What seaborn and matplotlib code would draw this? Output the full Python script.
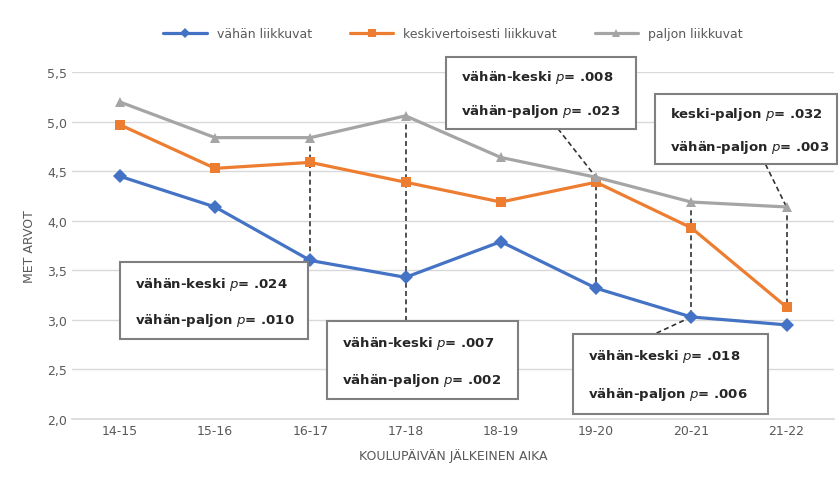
import matplotlib
matplotlib.use("Agg")
import pandas as pd
import seaborn as sns
from matplotlib import pyplot as plt
from matplotlib.patches import Rectangle
import matplotlib.ticker as ticker

aika = ["14-15", "15-16", "16-17", "17-18", "18-19", "19-20", "20-21", "21-22"]
vahan = [4.45, 4.14, 3.60, 3.43, 3.79, 3.32, 3.03, 2.95]
keski = [4.97, 4.53, 4.59, 4.39, 4.19, 4.39, 3.93, 3.13]
paljon = [5.20, 4.84, 4.84, 5.06, 4.64, 4.44, 4.19, 4.14]
ryhmat = ["vähän liikkuvat", "keskivertoisesti liikkuvat", "paljon liikkuvat"]

# p-value boxes: (lines, box in data coords x0, y0, x1, y1)
boxes = [
    (["vähän-keski $p$= .024", "vähän-paljon $p$= .010"], (0.0, 2.81, 1.98, 3.58)),
    (["vähän-keski $p$= .007", "vähän-paljon $p$= .002"], (2.17, 2.20, 4.18, 2.99)),
    (["vähän-keski $p$= .008", "vähän-paljon $p$= .023"], (3.42, 4.93, 5.42, 5.65)),
    (["keski-paljon $p$= .032", "vähän-paljon $p$= .003"], (5.62, 4.57, 7.53, 5.28)),
    (["vähän-keski $p$= .018", "vähän-paljon $p$= .006"], (4.76, 2.05, 6.81, 2.86)),
]

df = pd.DataFrame({
    "aika": aika * 3,
    "arvo": vahan + keski + paljon,
    "ryhma": [ryhmat[0]] * 8 + [ryhmat[1]] * 8 + [ryhmat[2]] * 8,
})

sns.set_theme(style="white")
plt.rcParams['font.family'] = ['DejaVu Sans']

fig, ax = plt.subplots(figsize=(8.4, 4.85), dpi=100)
fig.subplots_adjust(left=0.086, right=0.993, bottom=0.134, top=0.849)

palette = {ryhmat[0]: "#4472C4", ryhmat[1]: "#ED7D31", ryhmat[2]: "#A5A5A5"}
markers = {ryhmat[0]: "D", ryhmat[1]: "s", ryhmat[2]: "^"}
sns.lineplot(data=df, x="aika", y="arvo", hue="ryhma", style="ryhma",
             palette=palette, markers=markers, dashes=False, linewidth=2.3,
             markersize=7, markeredgewidth=0, ax=ax, zorder=3)

ax.set_ylim(2.0, 5.5)
ax.set_xlim(-0.5, 7.5)
ax.yaxis.set_major_locator(ticker.MultipleLocator(0.5))
ax.yaxis.set_major_formatter(ticker.FuncFormatter(lambda v, p: f"{v:.1f}".replace(".", ",")))
ax.grid(axis="y", color="#d9d9d9", linewidth=1)
for s in ["top", "right", "left"]:
    ax.spines[s].set_visible(False)
ax.spines["bottom"].set_color("#d9d9d9")
ax.tick_params(axis="both", labelsize=9, colors="#595959", length=0)
ax.set_xlabel("KOULUPÄIVÄN JÄLKEINEN AIKA", fontsize=9, color="#595959", labelpad=8)
ax.set_ylabel("MET ARVOT", fontsize=9, color="#595959", labelpad=8)

leg = ax.legend(loc="lower center", bbox_to_anchor=(0.5, 1.06), ncol=3, frameon=False,
                fontsize=9, handlelength=3.5, columnspacing=3, markerscale=0.8)
for t in leg.get_texts():
    t.set_color("#595959")

# dashed connectors
dash = dict(color="#333333", linewidth=1.2, linestyle=(0, (3, 2)), zorder=2)
ax.plot([2, 2], [paljon[2], vahan[2]], **dash)
ax.plot([3, 3], [paljon[3], boxes[1][1][3]], **dash)
ax.plot([5, 5], [paljon[5], vahan[5]], **dash)
ax.plot([6, 6], [paljon[6], vahan[6]], **dash)
ax.plot([7, 7], [paljon[7], keski[7]], **dash)
ax.plot([4.60, 5], [boxes[2][1][1], paljon[5]], **dash)
ax.plot([6, 5.62], [vahan[6], boxes[4][1][3]], **dash)
ax.plot([6.78, 7], [boxes[3][1][1], paljon[7]], **dash)

for lines, (x0, y0, x1, y1) in boxes:
    ax.add_patch(Rectangle((x0, y0), x1 - x0, y1 - y0, facecolor="white",
                           edgecolor="#7f7f7f", linewidth=1.5, zorder=4, clip_on=False))
    h = y1 - y0
    for k, txt in enumerate(lines):
        ax.text(x0 + 0.16, y1 - h * (0.27 + 0.48 * k), txt, fontsize=9.5,
                fontweight="bold", color="#262626", va="center", ha="left",
                zorder=5, clip_on=False)

plt.savefig("out.png", dpi=100)
